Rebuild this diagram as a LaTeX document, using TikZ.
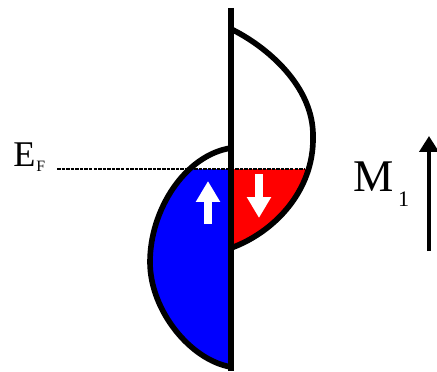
\documentclass[tikz,border=0pt]{standalone}
\usepackage{fontspec}
\setmainfont{Liberation Serif}
\usetikzlibrary{arrows.meta}
\definecolor{spinup}{RGB}{0,0,255}
\definecolor{spindown}{RGB}{255,0,0}
\tikzset{
  lobe/.style={
    line width=3.2pt,
    draw=black,
    line join=round
  },
  axisline/.style={
    line width=3pt,
    draw=black
  },
  fermiline/.style={
    line width=0.8pt,
    draw=black,
    dash pattern=on 2pt off 0.6pt
  },
  spinarrow/.style={
    -{Triangle[width=0.46cm,length=0.42cm]},
    line width=4.5pt,
    draw=white
  },
  momentarrow/.style={
    -{Triangle[width=0.38cm,length=0.32cm]},
    line width=2.5pt,
    draw=black
  },
  biglabel/.style={
    inner sep=0pt,
    anchor=base west
  }
}
\begin{document}
\begin{tikzpicture}[x=0.02cm, y=-0.02cm]
\useasboundingbox (0,0) rectangle (437,372);
% filled states below the Fermi level
\begin{scope}
  \clip (0,169) rectangle (231,372);
  \fill[spinup] (231,148) .. controls (185,155) and (150,210) .. (150,262)
    .. controls (150,310) and (190,360) .. (231,367) -- cycle;
\end{scope}
\begin{scope}
  \clip (231,169) rectangle (437,372);
  \fill[spindown] (231,29) .. controls (266,46) and (314,86) .. (313,137)
    .. controls (314,190) and (275,232) .. (231,248) -- cycle;
\end{scope}
% Fermi level
\coordinate (efstart) at (57,169);
\coordinate (efend) at (305,169);
\draw[fermiline] (efstart) -- (efend);
% density of states
\draw[lobe] (231,148) .. controls (185,155) and (150,210) .. (150,262)
  .. controls (150,310) and (190,360) .. (231,367);
\draw[lobe] (231,29) .. controls (266,46) and (314,86) .. (313,137)
  .. controls (314,190) and (275,232) .. (231,248);
\coordinate (axtop) at (231,8);
\coordinate (axbot) at (231,371);
\draw[axisline] (axtop) -- (axbot);
% spin arrows
\coordinate (uptail) at (208,224);
\coordinate (uptip) at (208,181);
\coordinate (dntail) at (259,174);
\coordinate (dntip) at (259,218);
\draw[spinarrow] (uptail) -- (uptip);
\draw[spinarrow] (dntail) -- (dntip);
% labels
\node[biglabel, font=\fontsize{20.6}{24}\selectfont] (ef) at (13,166)
  {E\kern0.5pt\raisebox{-3.4pt}{\fontsize{9}{10}\selectfont F}};
\node[biglabel, font=\fontsize{25.8}{30}\selectfont] (m1) at (353,192)
  {M\kern2.5pt\raisebox{-8.5pt}{\fontsize{12.6}{14}\selectfont 1}};
\coordinate (mtail) at (429,251);
\coordinate (mtip) at (429,136);
\draw[momentarrow] (mtail) -- (mtip);
\end{tikzpicture}
\end{document}
